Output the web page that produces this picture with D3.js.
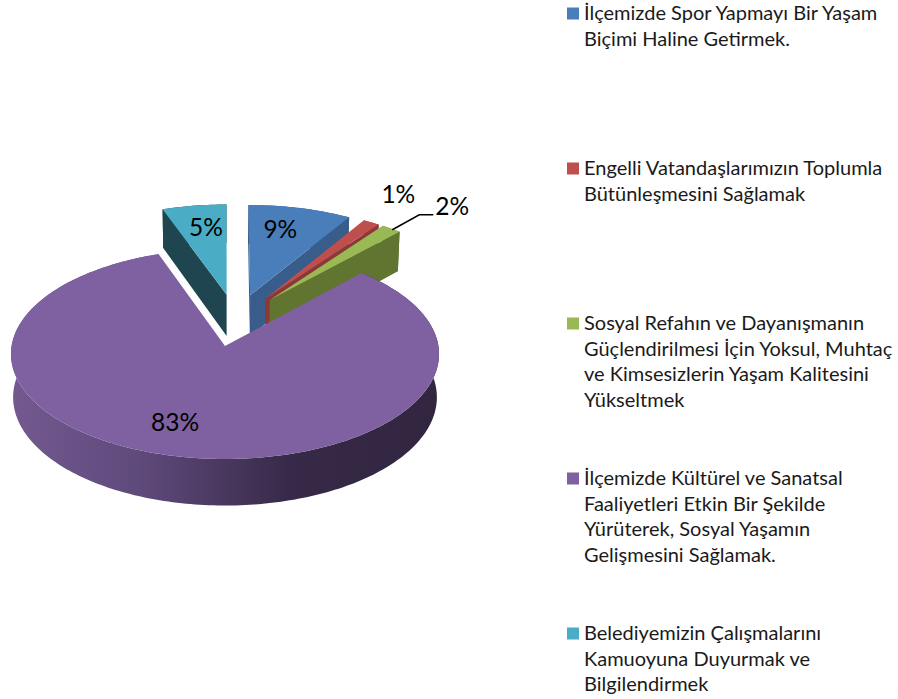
<!DOCTYPE html>
<html><head><meta charset="utf-8">
<script src="https://cdn.jsdelivr.net/npm/d3@7"></script>
<style>html,body{margin:0;padding:0;background:#fff;overflow:hidden}svg{display:block}</style>
</head><body><svg id="c" width="898" height="699"></svg>
<script>
// Data
const categories = [
  ["İlçemizde Spor Yapmayı Bir Yaşam","Biçimi Haline Getirmek."],
  ["Engelli Vatandaşlarımızın Toplumla","Bütünleşmesini Sağlamak"],
  ["Sosyal Refahın ve Dayanışmanın","Güçlendirilmesi İçin Yoksul, Muhtaç","ve Kimsesizlerin Yaşam Kalitesini","Yükseltmek"],
  ["İlçemizde Kültürel ve Sanatsal","Faaliyetleri Etkin Bir Şekilde","Yürüterek, Sosyal Yaşamın","Gelişmesini Sağlamak."],
  ["Belediyemizin Çalışmalarını","Kamuoyuna Duyurmak ve","Bilgilendirmek"]
];
const values = [8.7, 1.4, 1.7, 82.8, 5.4];

// Styles
const topColors  = ["#4a7ebb","#bf4f4c","#98b954","#7f60a0","#4aacc5"];
const sideColors = ["#385d8a","#8c3836","#5f7530","#5c4776","#1f4650"];
const FONT = "Lato, 'Noto Sans', sans-serif";

// Projection of the tilted pie
const cx = 225, cy = 346, R = 213.4, S = 104.4, P = 0.076, D = 43, EXPLODE = 0.26;
const project = (u, v, down = false) => {
  const w = 1 - P * v;
  const k = down ? 0.99 : 1;
  return [cx + k * R * u / w, cy + (S * v + (down ? D : 0)) / w];
};

const svg = d3.select("#c");
const defs = svg.append("defs");
const grad = defs.append("linearGradient").attr("id","wall")
  .attr("gradientUnits","userSpaceOnUse").attr("x1",11).attr("x2",439).attr("y1",0).attr("y2",0);
[[0,"#73598f"],[0.3,"#5f4a7c"],[0.65,"#372a48"],[1,"#312540"]].forEach(([o,c]) =>
  grad.append("stop").attr("offset",o).attr("stop-color",c));

// 9% starts at 12 o'clock and the slices run clockwise
const arcs = d3.pie().sort(null).value(d => d)(values);
const midOf = a => (a.startAngle + a.endAngle) / 2;
const dirOf = t => [Math.sin(t), -Math.cos(t)];
const anchorIndex = values.indexOf(d3.max(values));
const anchor = dirOf(midOf(arcs[anchorIndex]));
const originOf = a => {
  const d = dirOf(midOf(a));
  return [EXPLODE * (d[0] - anchor[0]), EXPLODE * (d[1] - anchor[1])];
};
const onRim = (a, t, f = 1) => {
  const o = originOf(a), d = dirOf(t);
  return [o[0] + f * d[0], o[1] + f * d[1]];
};
const line = d3.line();

function rimPoints(a) {
  const n = Math.max(4, Math.ceil((a.endAngle - a.startAngle) / 0.02));
  return d3.range(n + 1).map(i => onRim(a, a.startAngle + (a.endAngle - a.startAngle) * i / n));
}

// Painter's order: back slices first, largest (front) slice last
const order = [4, 0, 1, 2, 3];
const g = svg.append("g");
order.forEach(i => {
  const a = arcs[i];
  const rim = rimPoints(a);
  const o = originOf(a);
  const wall = rim.map(p => project(p[0], p[1])).concat(rim.slice().reverse().map(p => project(p[0], p[1], true)));
  g.append("path").attr("d", line(wall) + "Z")
    .attr("fill", i === anchorIndex ? "url(#wall)" : sideColors[i]);
  [rim[0], rim[rim.length - 1]].forEach((p, k) => {
    const quad = [project(o[0],o[1]), project(p[0],p[1]), project(p[0],p[1],true), project(o[0],o[1],true)];
    const area = d3.polygonArea(quad);
    const visible = k === 0 ? area > 0 : area < 0;
    if (visible) g.append("path").attr("d", line(quad) + "Z").attr("fill", sideColors[i]);
  });
  const top = [project(o[0],o[1])].concat(rim.map(p => project(p[0],p[1])));
  g.append("path").attr("d", line(top) + "Z").attr("fill", topColors[i]);
});

// Data labels
const pct = v => Math.round(v) + "%";
const labelRule = [
  {f:0.75, n:[-8,1]},
  {f:1,    n:[27,-28]},
  {f:1,    n:[61,-22]},
  {f:0.75, n:[-16,-5]},
  {f:0.75, n:[4,1]}
];
arcs.forEach((a, i) => {
  const p = onRim(a, midOf(a), labelRule[i].f);
  const s = project(p[0], p[1]);
  const x = s[0] + labelRule[i].n[0], y = s[1] + labelRule[i].n[1];
  svg.append("text").attr("x", x).attr("y", y).attr("dy","0.35em")
    .attr("text-anchor","middle").attr("font-family",FONT).attr("font-size",24.5)
    .attr("fill","#000").text(pct(values[i]));
  if (i === 2) {
    svg.append("path").attr("fill","none").attr("stroke","#000").attr("stroke-width",1.5)
      .attr("d", line([[s[0]+1, s[1]+1],[x-33, y+8],[x-19, y+8]]));
  }
});

// Legend
const LH = 25.7;
const legendY = d3.scaleLinear().domain([0, 4]).range([13, 633]);
const lg = svg.append("g");
categories.forEach((lines, i) => {
  lg.append("rect").attr("x",567).attr("y",legendY(i)-5.5).attr("width",12).attr("height",12).attr("fill",topColors[i]);
  lines.forEach((t, j) => {
    lg.append("text").attr("x",584).attr("y",legendY(i)+j*LH).attr("dy","0.35em")
      .attr("font-family",FONT).attr("font-size",20).attr("fill","#1a1a1a").text(t);
  });
});
</script></body></html>
